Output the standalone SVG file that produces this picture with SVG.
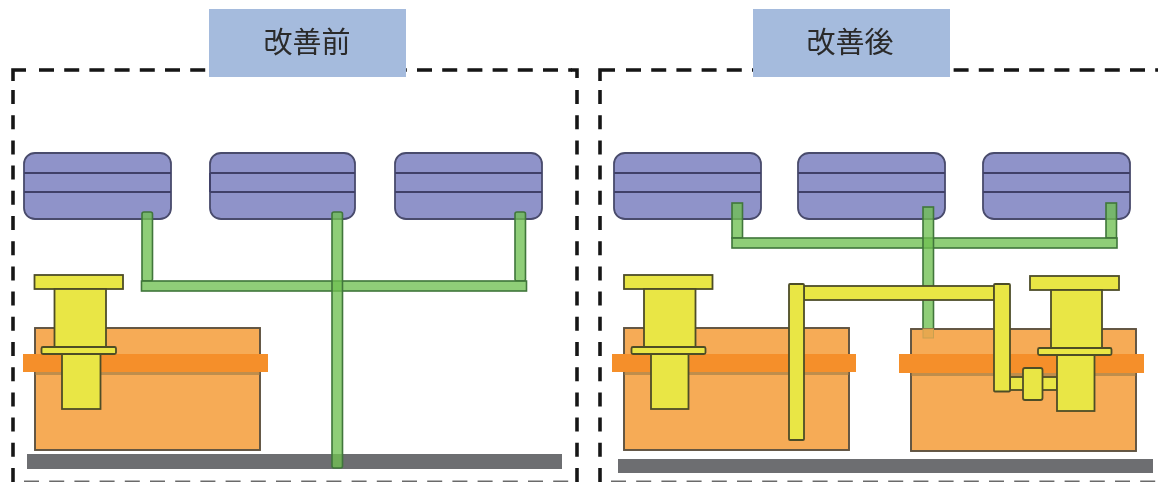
<svg xmlns="http://www.w3.org/2000/svg" width="1158" height="482" viewBox="0 0 1158 482">
<style>
.bg{fill:#fff}
.title{fill:#A5BBDD}
.tt{font-family:"Noto Sans CJK JP","Noto Sans CJK SC",sans-serif;font-size:29px;fill:#2b2b2b;text-anchor:middle}
.dash{fill:none;stroke:#161616;stroke-width:3.6}
.dh{stroke-dasharray:15 10.2}
.dv{stroke-dasharray:14 11.2}
.db{stroke:#6a6a6a;stroke-width:3;stroke-dasharray:15 10.2}
.tank{fill:#8F93C9;stroke:#494b6c;stroke-width:1.8}
.tl{stroke:#3f4168;stroke-width:1.9}
.g{fill:#6FC052;fill-opacity:.78;stroke:#40763a;stroke-width:1.6}
.box{fill:#F6AB57;stroke:#5e5240;stroke-width:1.9}
.band{fill:#F58F2A}
.sh{fill:#9b7a45;fill-opacity:.6}
.y{fill:#E9E645;stroke:#4e4d28;stroke-width:1.8}
.grey{fill:#6D6E71}
</style>
<defs>
<filter id="soft" x="-2%" y="-2%" width="104%" height="104%"><feGaussianBlur stdDeviation="0.75"/></filter>
<g id="tankShape">
<rect class="tank" x="0" y="0" width="147" height="66" rx="11"/>
<line class="tl" x1="0" y1="20" x2="147" y2="20"/>
<line class="tl" x1="0" y1="39" x2="147" y2="39"/>
</g>
<g id="tankShape2">
<rect class="tank" x="0" y="0" width="145" height="66" rx="11"/>
<line class="tl" x1="0" y1="20" x2="145" y2="20"/>
<line class="tl" x1="0" y1="39" x2="145" y2="39"/>
</g>
</defs>
<rect class="bg" width="1158" height="482"/>
<g filter="url(#soft)">
<g id="panel-before-frame">
<path class="dash" d="M13 81V70H26"/>
<line class="dash dh" x1="39" y1="70" x2="572" y2="70"/>
<path class="dash" d="M571 70H577V78"/>
<line class="dash dv" x1="13" y1="90" x2="13" y2="484"/>
<line class="dash dv" x1="577" y1="90" x2="577" y2="484"/>
<line class="dash db" x1="24" y1="482" x2="577" y2="482"/>
</g>
<g id="panel-after-frame">
<path class="dash" d="M600 81V70H615"/>
<line class="dash dh" x1="626" y1="70" x2="1158" y2="70"/>
<line class="dash dv" x1="600" y1="90" x2="600" y2="484"/>
<line class="dash db" x1="611" y1="482" x2="1158" y2="482"/>
</g>
<g id="title-before"><rect class="title" x="209" y="9" width="197" height="68"/><text class="tt" x="307" y="53">改善前</text></g>
<g id="title-after"><rect class="title" x="753" y="9" width="197" height="68"/><text class="tt" x="850" y="53">改善後</text></g>
<g id="tank-b1"><use href="#tankShape" x="24" y="153"/></g>
<g id="tank-b2"><use href="#tankShape2" x="210" y="153"/><line class="tl" x1="210" y1="173" x2="210" y2="192"/></g>
<g id="tank-b3"><use href="#tankShape" x="395" y="153"/></g>
<g id="tank-a1"><use href="#tankShape" x="614" y="153"/></g>
<g id="tank-a2"><use href="#tankShape" x="798" y="153"/></g>
<g id="tank-a3"><use href="#tankShape" x="983" y="153"/></g>
<g id="base-before"><rect class="grey" x="27" y="454" width="535" height="15"/></g>
<g id="base-after"><rect class="grey" x="618" y="459" width="535" height="14"/></g>
<g id="connectors">
<rect class="g" x="142" y="212" width="10.500" height="69" rx="2"/>
<rect class="g" x="515" y="212" width="10.500" height="69" rx="2"/>
<rect class="g" x="141.500" y="281" width="385" height="10"/>
<rect class="g" x="332" y="212" width="10.500" height="256" rx="2"/>
<rect class="g" x="732" y="203" width="10.500" height="35"/>
<rect class="g" x="1106" y="203" width="10.500" height="35"/>
<rect class="g" x="732" y="238" width="385" height="10"/>
<rect class="g" x="923" y="207" width="10.500" height="131"/>
</g>
<g id="tank-before-lower">
<rect class="box" x="35" y="328" width="225" height="122"/>
<rect class="sh" x="35" y="371" width="225" height="4"/>
<rect class="band" x="23" y="354" width="245" height="18"/>
<rect class="y" x="34.500" y="275" width="88.500" height="14"/>
<rect class="y" x="54.500" y="289" width="51.500" height="59"/>
<rect class="y" x="62" y="354" width="38.500" height="55"/>
<rect class="y" x="41.500" y="347" width="74.500" height="7" rx="1.500"/>
</g>
<g id="tank-after-left">
<rect class="box" x="624" y="328" width="225" height="122"/>
<rect class="sh" x="624" y="371" width="225" height="4"/>
<rect class="band" x="612" y="354" width="244" height="18"/>
<rect class="y" x="624" y="275" width="88.500" height="14"/>
<rect class="y" x="644" y="289" width="51.500" height="59"/>
<rect class="y" x="651" y="354" width="37.500" height="55"/>
<rect class="y" x="631.500" y="347" width="74" height="7" rx="1.500"/>
</g>
<g id="tank-after-right">
<rect class="box" x="911" y="329" width="225" height="122"/>
<rect class="sh" x="911" y="372" width="225" height="4"/>
<rect x="923" y="329" width="10.500" height="9" fill="#E7A84F" stroke="#C9A050" stroke-width="1"/>
<rect class="band" x="899" y="354" width="245" height="19"/>
<rect class="y" x="1030" y="276" width="89" height="14"/>
<rect class="y" x="1051" y="290" width="51" height="58"/>
<rect class="y" x="1010" y="377" width="47" height="13"/>
<rect class="y" x="1023" y="368" width="19.500" height="32" rx="2"/>
<rect class="y" x="1057" y="355" width="37.500" height="56"/>
<rect class="y" x="1038" y="348" width="73.500" height="7" rx="1.500"/>
</g>
<g id="shaft-after">
<rect class="y" x="804" y="286" width="190" height="14"/>
<rect class="y" x="789" y="284" width="15" height="156" rx="1"/>
<rect class="y" x="994" y="284" width="16" height="107.500" rx="1"/>
</g>
</g>
</svg>
